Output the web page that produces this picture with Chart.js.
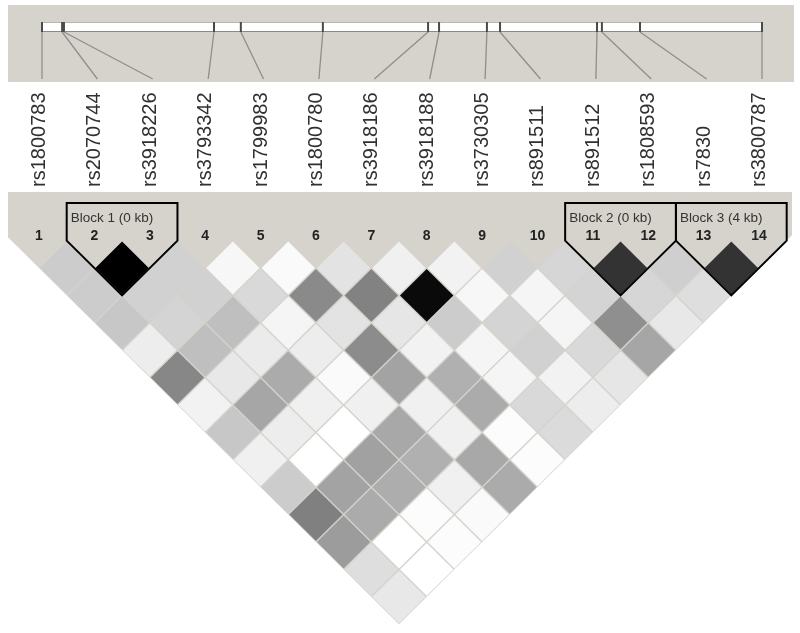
<!DOCTYPE html>
<html>
<head>
<meta charset="utf-8">
<script src="https://cdn.jsdelivr.net/npm/chart.js@4.4.1/dist/chart.umd.min.js"></script>
<style>
  html, body { margin: 0; padding: 0; background: #fff; }
  #ldChart { display: block; }
</style>
</head>
<body>
<canvas id="ldChart" width="800" height="633"></canvas>
<script>
// SNPs in map order
const snpNames = ['rs1800783', 'rs2070744', 'rs3918226', 'rs3793342', 'rs1799983', 'rs1800780', 'rs3918186',
                  'rs3918188', 'rs3730305', 'rs891511', 'rs891512', 'rs1808593', 'rs7830', 'rs3800787'];

// position along the region, kb from the first SNP
const snpKb = [0, 0.66, 0.72, 5.64, 6.52, 9.21, 12.66, 13.02, 14.59, 15.02, 18.20, 18.36, 19.61, 23.61];

// r2 x 100, one array per distance between the two SNPs (first = neighbours)
const r2Rows = [
    [20, 100, 18, 3, 2, 11, 6, 5, 18, 16, 80, 19, 80],
    [20, 18, 18, 15, 46, 49, 96, 3, 4, 17, 16, 13],
    [22, 17, 25, 4, 11, 10, 20, 17, 4, 44, 9],
    [7, 25, 8, 7, 45, 5, 4, 18, 15, 35],
    [47, 9, 33, 2, 36, 31, 4, 5, 10],
    [5, 35, 6, 6, 6, 33, 15, 7],
    [22, 7, 0, 34, 6, 1, 14],
    [6, 0, 37, 31, 34, 1],
    [20, 36, 32, 6, 33],
    [50, 33, 1, 2],
    [39, 0, 1],
    [13, 0],
    [9]
];

// haplotype blocks, first and last SNP (1-based)
const blockLabels = ['Block 1 (0 kb)', 'Block 2 (0 kb)', 'Block 3 (4 kb)'];
const blockFirst = [2, 11, 13];
const blockLast = [3, 12, 14];

const W = 800, H = 633;
const nSnp = snpNames.length;
const FONT = '"Liberation Sans", Arial, sans-serif';
const BG = '#d6d3cc';

// one point per pair: x = midpoint of the two SNPs, y = distance
const cells = [];
r2Rows.forEach((row, d) => {
    row.forEach((r2, i) => {
        const a = i + 1, b = a + d + 1;
        cells.push({ x: (a + b) / 2, y: b - a, r2: r2 });
    });
});

// scale ranges so the canvas is the plot area
const colStart = 39, colStep = 55.385;
const xMin = 1 - colStart / colStep;
const rowTop = 240.6, rowStep = 27.4;
const yMin = -rowTop / rowStep;
const mapLeft = 42, mapRight = 762;
const kbPx = (mapRight - mapLeft) / (snpKb[nSnp - 1] - snpKb[0]);

function grey(r2) {
    const g = Math.round(255 * (1 - r2 / 100));
    return 'rgb(' + g + ',' + g + ',' + g + ')';
}

const ldPlugin = {
    id: 'ldPlot',
    beforeDraw(chart) {
        const ctx = chart.ctx;
        ctx.save();
        ctx.fillStyle = '#fff';
        ctx.fillRect(0, 0, W, H);
        ctx.restore();
    },
    afterDatasetsDraw(chart) {
        const ctx = chart.ctx;
        const xs = chart.scales.x, ys = chart.scales.y, xm = chart.scales.xMap;
        const px = v => xs.getPixelForValue(v);
        const py = v => ys.getPixelForValue(v);
        ctx.save();

        // map box
        ctx.fillStyle = BG;
        ctx.fillRect(8, 5, 786, 77);
        const barL = xm.getPixelForValue(snpKb[0]), barR = xm.getPixelForValue(snpKb[nSnp - 1]);
        ctx.fillStyle = '#fff';
        ctx.fillRect(barL, 22, barR - barL, 10);
        ctx.strokeStyle = '#b5b5b5';
        ctx.lineWidth = 1;
        ctx.strokeRect(barL + 0.5, 22.5, barR - barL - 1, 9);
        ctx.strokeStyle = '#8a8a8a';
        ctx.beginPath();
        ctx.moveTo(barL, 31.5);
        ctx.lineTo(barR, 31.5);
        ctx.stroke();

        snpKb.forEach((kb, i) => {
            const tx = xm.getPixelForValue(kb);
            ctx.fillStyle = '#4a4a4a';
            ctx.fillRect(tx - 1, 22, 2, 10);
            ctx.strokeStyle = '#8e8e8e';
            ctx.lineWidth = 1.3;
            ctx.beginPath();
            ctx.moveTo(tx, 32);
            ctx.lineTo(px(i + 1) + 3, 79);
            ctx.stroke();
        });

        // SNP names
        ctx.fillStyle = '#303030';
        ctx.font = '20px ' + FONT;
        ctx.textAlign = 'left';
        ctx.textBaseline = 'alphabetic';
        snpNames.forEach((name, i) => {
            ctx.save();
            ctx.translate(px(i + 1) + 6, 187);
            ctx.rotate(-Math.PI / 2);
            ctx.fillText(name, 0, 0);
            ctx.restore();
        });

        // grey area behind the triangle
        const vL = xs.getValueForPixel(8), vR = xs.getValueForPixel(792);
        ctx.fillStyle = BG;
        ctx.beginPath();
        ctx.moveTo(8, 192);
        ctx.lineTo(792, 192);
        ctx.lineTo(792, py((nSnp + 0.5 - vR) * 2));
        ctx.lineTo(px((nSnp + 1) / 2), py(nSnp));
        ctx.lineTo(8, py((vL - 0.5) * 2));
        ctx.closePath();
        ctx.fill();

        // SNP numbers
        ctx.fillStyle = '#222';
        ctx.font = 'bold 14px ' + FONT;
        ctx.textAlign = 'center';
        for (let i = 1; i <= nSnp; i++) {
            ctx.fillText(String(i), px(i), 240);
        }

        // LD diamonds: half width = half a SNP column, half height = one distance step
        const hw = Math.abs(px(1) - px(0)) / 2 - 1;
        const hh = Math.abs(py(1) - py(0)) - 1;
        const meta = chart.getDatasetMeta(0);
        meta.data.forEach((el, k) => {
            ctx.fillStyle = grey(cells[k].r2);
            ctx.beginPath();
            ctx.moveTo(el.x, el.y - hh);
            ctx.lineTo(el.x + hw, el.y);
            ctx.lineTo(el.x, el.y + hh);
            ctx.lineTo(el.x - hw, el.y);
            ctx.closePath();
            ctx.fill();
        });

        // block outlines
        ctx.strokeStyle = '#000';
        ctx.lineWidth = 2;
        ctx.lineJoin = 'miter';
        blockLabels.forEach((label, b) => {
            const f = blockFirst[b], l = blockLast[b];
            ctx.beginPath();
            ctx.moveTo(px(f - 0.5), 203);
            ctx.lineTo(px(l + 0.5), 203);
            ctx.lineTo(px(l + 0.5), py(0));
            ctx.lineTo(px((f + l) / 2), py(l - f + 1));
            ctx.lineTo(px(f - 0.5), py(0));
            ctx.closePath();
            ctx.stroke();
        });
        ctx.fillStyle = '#333';
        ctx.font = '13.5px ' + FONT;
        ctx.textAlign = 'left';
        blockLabels.forEach((label, b) => {
            ctx.fillText(label, px(blockFirst[b] - 0.5) + 4, 222);
        });

        ctx.restore();
    }
};

new Chart(document.getElementById('ldChart'), {
    type: 'scatter',
    data: {
        datasets: [{
            data: cells,
            pointRadius: 0,
            pointHoverRadius: 0
        }]
    },
    options: {
        responsive: false,
        animation: false,
        events: [],
        layout: { padding: 0 },
        plugins: { legend: { display: false }, tooltip: { enabled: false } },
        scales: {
            x: { type: 'linear', display: false, min: xMin, max: xMin + W / colStep },
            xMap: { type: 'linear', axis: 'x', display: false, min: -mapLeft / kbPx, max: (W - mapLeft) / kbPx },
            y: { type: 'linear', display: false, reverse: true, min: yMin, max: yMin + H / rowStep }
        }
    },
    plugins: [ldPlugin]
});
</script>
</body>
</html>
